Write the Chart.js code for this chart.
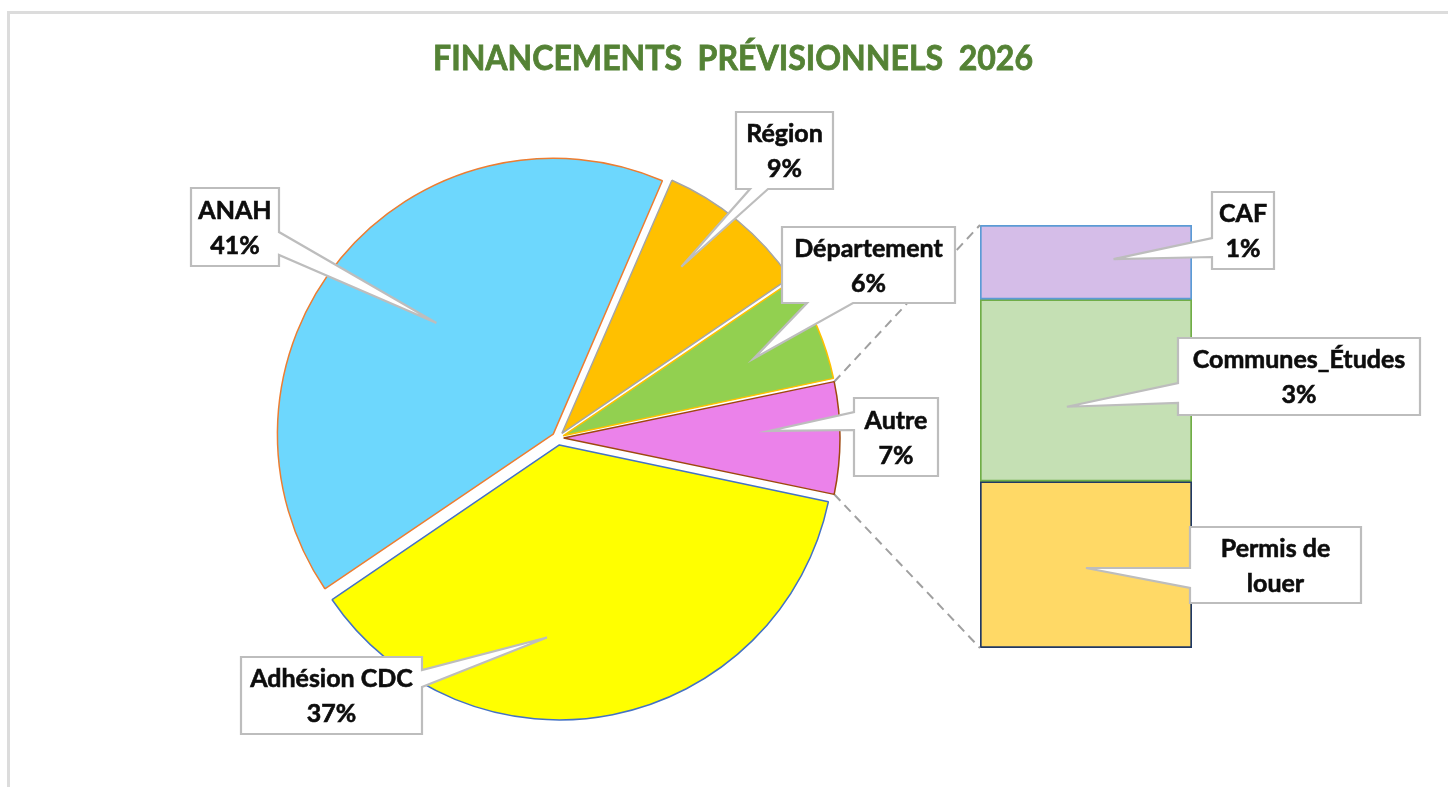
<!DOCTYPE html>
<html><head><meta charset="utf-8">
<script src="https://cdn.jsdelivr.net/npm/chart.js@4.4.0/dist/chart.umd.min.js"></script>
<style>
html,body{margin:0;padding:0;background:#fff;width:1448px;height:787px;overflow:hidden}
#frame{position:absolute;left:7px;top:11px;width:1441px;height:776px;border-top:3px solid #dcdcdc;border-left:3px solid #dcdcdc;box-sizing:border-box}
.layer{position:absolute;left:0;top:0;width:1448px;height:787px}
</style></head><body>
<div id="frame"></div>
<div class="layer"><canvas id="bar" width="1448" height="787"></canvas></div>
<div class="layer"><canvas id="pie" width="1448" height="787"></canvas></div>
<script>
// ---------- DATA ----------
const titleText = 'FINANCEMENTS  PRÉVISIONNELS  2026';
const pieLabels = ['Adhésion CDC', 'ANAH', 'Région', 'Département', 'Autre'];
const pieValues = [37.2, 41.0, 9.0, 6.2, 6.6];
const subLabels = ['CAF', 'Communes_Études', 'Permis de louer'];
const subValues = [1.16, 2.84, 2.6];
const subLabelLines = [['CAF'], ['Communes_Études'], ['Permis de', 'louer']];
const subShowPct = [true, true, false];

// ---------- STYLE ----------
const pieColors = ['#FFFF00', '#6DD7FD', '#FFC000', '#92D050', '#EB82EA'];
const pieBorders = ['#4472C4', '#ED7D31', '#A5A5A5', '#FFC000', '#9E480E'];
const subColors = ['#D5BDE8', '#C5E0B4', '#FFD966'];
const subBorders = ['#5B9BD5', '#70AD47', '#203864'];
const W = 1448, H = 787;
const PIE_CX = 558, PIE_CY = 438, PIE_R = 273, EXPLODE = 9;
const LABEL_FONT = 'bold 25px Lato';
const LINE_H = 35;

const pieCallouts = [
  {box:[241,657,181,77], side:'right', base:[670,687], frac:0.70, dAng:15},
  {box:[191,188,88,78], side:'right', base:[232,255], frac:0.58, dAng:4},
  {box:[736,112,97,77], side:'bottom', base:[750,768], frac:0.74, dAng:-4},
  {box:[782,227,173,76], side:'bottom', base:[807,853], frac:0.74, dAng:1},
  {box:[854,398,84,78], side:'left', base:[412,430], frac:0.74, dAng:-2}
];
const subCallouts = [
  {box:[1212,192,62,77], side:'left', base:[238,257], fx:0.63, fy:0.46},
  {box:[1178,338,242,77], side:'left', base:[383,403], fx:0.41, fy:0.59},
  {box:[1190,527,171,76], side:'left', base:[568,588], fx:0.50, fy:0.52}
];

const pieTotal = pieValues.reduce((a, b) => a + b, 0);
const subTotal = subValues.reduce((a, b) => a + b, 0);
const startDeg = pieValues[pieValues.length - 1] / pieTotal * 180;

function explodeOffset(ctx) {
  const v = ctx.dataset.data[ctx.dataIndex];
  const circ = v / pieTotal * 2 * Math.PI;
  const fix = 1 - Math.sin(Math.min(Math.PI, circ));
  return EXPLODE * 4 / (1 + fix);
}

function drawCallout(ctx, c, tx, ty, lines) {
  const [x, y, w, h] = c.box;
  const [a, b] = c.base;
  const pts = [];
  if (c.side === 'right') pts.push([x,y],[x+w,y],[x+w,a],[tx,ty],[x+w,b],[x+w,y+h],[x,y+h]);
  else if (c.side === 'left') pts.push([x,y],[x+w,y],[x+w,y+h],[x,y+h],[x,b],[tx,ty],[x,a]);
  else if (c.side === 'bottom') pts.push([x,y],[x+w,y],[x+w,y+h],[b,y+h],[tx,ty],[a,y+h],[x,y+h]);
  else pts.push([x,y],[a,y],[tx,ty],[b,y],[x+w,y],[x+w,y+h],[x,y+h]);
  ctx.save();
  ctx.beginPath();
  pts.forEach((p, i) => i ? ctx.lineTo(p[0], p[1]) : ctx.moveTo(p[0], p[1]));
  ctx.closePath();
  ctx.fillStyle = '#FFFFFF';
  ctx.fill();
  ctx.lineWidth = 2.2;
  ctx.lineJoin = 'miter';
  ctx.strokeStyle = '#BDBDBD';
  ctx.stroke();
  ctx.fillStyle = '#0D0D0D';
  ctx.strokeStyle = '#0D0D0D';
  ctx.lineWidth = 0.6;
  ctx.font = LABEL_FONT;
  ctx.textAlign = 'center';
  ctx.textBaseline = 'middle';
  const cy = y + h / 2 - (lines.length - 1) * LINE_H / 2;
  lines.forEach((t, i) => {
    ctx.fillText(t, x + w / 2, cy + i * LINE_H + 1);
    ctx.strokeText(t, x + w / 2, cy + i * LINE_H + 1);
  });
  ctx.restore();
}

function arcCenter(arc) {
  const p = arc.getProps(['x', 'y', 'startAngle', 'endAngle', 'outerRadius'], true);
  const mid = (p.startAngle + p.endAngle) / 2;
  return {cx: p.x + Math.cos(mid) * EXPLODE, cy: p.y + Math.sin(mid) * EXPLODE, mid, ...p};
}

const piePlugin = {
  id: 'pieCallouts',
  afterDatasetsDraw(chart) {
    const ctx = chart.ctx;
    // title
    ctx.save();
    ctx.font = 'bold 34px Lato';
    ctx.fillStyle = '#548235';
    ctx.strokeStyle = '#548235';
    ctx.lineWidth = 0.8;
    ctx.textAlign = 'center';
    ctx.textBaseline = 'alphabetic';
    const tw = ctx.measureText(titleText).width;
    const s = 600 / tw;
    ctx.translate(733, 70);
    ctx.scale(s, 1);
    ctx.fillText(titleText, 0, 0);
    ctx.strokeText(titleText, 0, 0);
    ctx.restore();
    chart.getDatasetMeta(0).data.forEach((arc, i) => {
      const c = pieCallouts[i];
      const g = arcCenter(arc);
      const a = g.mid + c.dAng * Math.PI / 180;
      const tx = g.cx + Math.cos(a) * g.outerRadius * c.frac;
      const ty = g.cy + Math.sin(a) * g.outerRadius * c.frac;
      const pct = Math.round(pieValues[i] / pieTotal * 100) + '%';
      drawCallout(ctx, c, tx, ty, [pieLabels[i], pct]);
    });
  }
};

const pieChart = new Chart(document.getElementById('pie'), {
  type: 'pie',
  data: {labels: pieLabels, datasets: [{data: pieValues, backgroundColor: pieColors, borderColor: pieBorders, borderWidth: 1.5, offset: explodeOffset}]},
  options: {
    responsive: false, animation: false, events: [],
    rotation: startDeg + 90, radius: PIE_R,
    layout: {padding: {left: PIE_CX - 300, top: PIE_CY - 300, right: W - (PIE_CX + 300), bottom: H - (PIE_CY + 300)}},
    plugins: {legend: {display: false}, tooltip: {enabled: false}, title: {display: false}}
  },
  plugins: [piePlugin]
});

const barPlugin = {
  id: 'barExtras',
  afterDatasetsDraw(chart) {
    const ctx = chart.ctx;
    const autre = arcCenter(pieChart.getDatasetMeta(0).data[pieValues.length - 1]);
    const segs = subValues.map((v, i) => chart.getDatasetMeta(i).data[0].getProps(['x', 'y', 'base', 'width'], true));
    const left = segs[0].x - segs[0].width / 2;
    const top = Math.min(segs[0].y, segs[0].base);
    const last = segs[segs.length - 1];
    const bottom = Math.max(last.y, last.base);
    ctx.save();
    ctx.setLineDash([9, 6]);
    ctx.strokeStyle = '#A0A0A0';
    ctx.lineWidth = 2;
    ctx.beginPath();
    ctx.moveTo(autre.cx + Math.cos(autre.startAngle) * autre.outerRadius, autre.cy + Math.sin(autre.startAngle) * autre.outerRadius);
    ctx.lineTo(left, top);
    ctx.moveTo(autre.cx + Math.cos(autre.endAngle) * autre.outerRadius, autre.cy + Math.sin(autre.endAngle) * autre.outerRadius);
    ctx.lineTo(left, bottom);
    ctx.stroke();
    ctx.restore();
    segs.forEach((s, i) => {
      const c = subCallouts[i];
      const sTop = Math.min(s.y, s.base), sH = Math.abs(s.y - s.base);
      const tx = s.x - s.width / 2 + s.width * c.fx;
      const ty = sTop + sH * c.fy;
      const lines = subLabelLines[i].slice();
      if (subShowPct[i]) lines.push(Math.round(subValues[i] / pieTotal * 100) + '%');
      drawCallout(ctx, c, tx, ty, lines);
    });
  }
};

new Chart(document.getElementById('bar'), {
  type: 'bar',
  data: {
    labels: ['Autre'],
    datasets: subLabels.map((l, i) => ({
      label: l, data: [subValues[i]], backgroundColor: subColors[i], borderColor: subBorders[i],
      borderWidth: 2, borderSkipped: false, categoryPercentage: 1, barPercentage: 1
    }))
  },
  options: {
    responsive: false, animation: false, events: [],
    layout: {padding: {left: 980, right: W - 1192, top: 225, bottom: H - 648}},
    plugins: {legend: {display: false}, tooltip: {enabled: false}},
    scales: {
      x: {display: false, stacked: true},
      y: {display: false, stacked: true, reverse: true, min: 0, max: subTotal}
    }
  },
  plugins: [barPlugin]
});
</script>
</body></html>
